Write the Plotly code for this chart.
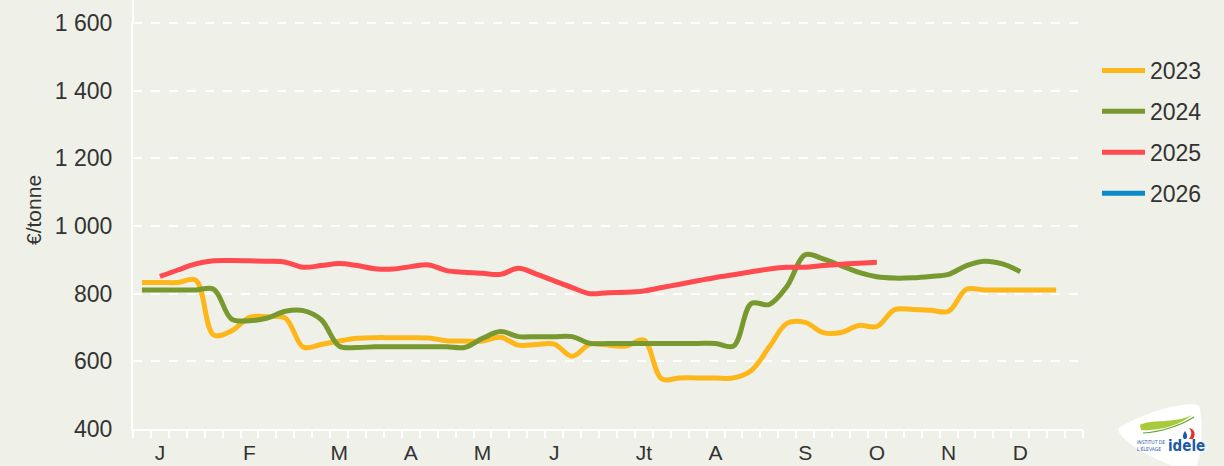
import plotly.graph_objects as go

weeks = list(range(53))
month_pos = [1, 6, 11, 15, 19, 23, 28, 32, 37, 41, 45, 49]
month_labels = ["J", "F", "M", "A", "M", "J", "Jt", "A", "S", "O", "N", "D"]
y_ticks = [400, 600, 800, 1000, 1200, 1400, 1600]
y_tick_text = ["400", "600", "800", "1 000", "1 200", "1 400", "1 600"]

y2023 = [833, 833, 833, 840, 678, 690, 730, 732, 728, 642, 650, 660, 668, 670, 670, 670, 669,
         661, 660, 660, 671, 648, 650, 651, 615, 651, 648, 645, 663, 548, 551, 551, 551, 551,
         573, 643, 713, 715, 685, 685, 706, 703, 753, 753, 751, 748, 813, 811, 811, 811, 811,
         811, None]
y2024 = [811, 811, 811, 811, 813, 725, 720, 728, 748, 750, 723, 645, 641, 643, 643, 643, 643,
         643, 641, 668, 688, 673, 673, 673, 673, 653, 653, 653, 653, 653, 653, 653, 653, 645,
         771, 768, 823, 915, 903, 883, 863, 850, 846, 847, 851, 857, 883, 896, 888, 865,
         None, None, None]
y2025 = [None, 851, 870, 888, 897, 898, 897, 896, 893, 878, 883, 889, 883, 874, 873, 880, 885,
         868, 863, 860, 857, 875, 858, 838, 818, 800, 803, 804, 808, 818, 828, 838, 848, 856,
         865, 873, 878, 878, 883, 887, 890, 893] + [None] * 11
y2026 = [None] * 53

series = [
    ("2023", y2023, "#FDB71A"),
    ("2024", y2024, "#77992F"),
    ("2025", y2025, "#FF4A50"),
    ("2026", y2026, "#0B8AC7"),
]

W, H = 1224, 466
L, R, T, B = 133, 1083, 22, 429


def px(x):
    return (x - L) / (R - L)


def py(y):
    return (B - y) / (B - T)


fig = go.Figure()
for i, (name, ys, col) in enumerate(series):
    fig.add_trace(go.Scatter(
        x=weeks, y=ys, name=name, mode="lines",
        line=dict(color=col, width=5, shape="spline", smoothing=1.0),
        legendgroup=name, connectgaps=False, hoverinfo="skip",
    ))

font_family = "Liberation Sans, Arial, sans-serif"
txt_col = "#333333"
bg = "#EFF0E7"

fig.update_layout(
    width=W, height=H,
    margin=dict(l=L, r=W - R, t=T, b=H - B, autoexpand=False),
    paper_bgcolor=bg, plot_bgcolor=bg,
    font=dict(family=font_family, color=txt_col, size=21),
    showlegend=True,
    legend=dict(
        x=px(1097), xanchor="left", y=py(49), yanchor="top",
        bgcolor="rgba(0,0,0,0)", font=dict(size=23, color=txt_col),
        tracegroupgap=8, itemwidth=43,
    ),
    xaxis=dict(
        range=[-0.5, 52.5], tickmode="array", tickvals=month_pos, ticktext=month_labels,
        ticks="", showgrid=False, zeroline=False, automargin=False,
        showline=True, linecolor="white", linewidth=2,
        tickfont=dict(size=21, color=txt_col),
        ticklabelstandoff=4,
        minor=dict(tickmode="linear", tick0=-0.5, dtick=1, ticks="outside",
                   ticklen=7, tickcolor="white", tickwidth=2, showgrid=False),
    ),
    yaxis=dict(
        range=[400, 1603], tickmode="array", tickvals=y_ticks, ticktext=y_tick_text,
        ticks="", showgrid=True, gridcolor="white", griddash="dash", gridwidth=1.5,
        zeroline=False, showline=True, linecolor="white", linewidth=2, automargin=False,
        tickfont=dict(size=23, color=txt_col), ticklabelstandoff=14,
    ),
    annotations=[
        dict(text="€/tonne", x=px(33), y=py(210), xref="paper", yref="paper",
             xanchor="center", yanchor="middle",
             textangle=-90, showarrow=False, font=dict(size=21, color=txt_col)),
        dict(text="INSTITUT DE<br>L'ÉLEVAGE", x=px(1167), y=py(445), xref="paper", yref="paper",
             showarrow=False, xanchor="right", yanchor="middle", align="left",
             font=dict(size=5, color="#1D5BA6", family="DejaVu Sans Condensed, sans-serif")),
        dict(text="<b>idele</b>", x=px(1166), y=py(446), xref="paper", yref="paper",
             showarrow=False, xanchor="left", yanchor="middle",
             font=dict(size=15, color="#1D5BA6", family="DejaVu Sans Condensed, sans-serif")),
    ],
    shapes=[
        dict(type="line", xref="paper", yref="paper", x0=0, x1=0, y0=1, y1=py(0),
             line=dict(color="white", width=2), layer="above"),
        dict(type="path", xref="paper", yref="paper", fillcolor="white", line=dict(width=0),
             layer="above",
             path=(f"M{px(1199)},{py(406)} "
                   f"C{px(1190)},{py(400)} {px(1150)},{py(410)} {px(1120)},{py(427)} "
                   f"C{px(1110)},{py(434)} {px(1150)},{py(460)} {px(1180)},{py(468)} "
                   f"L{px(1196)},{py(468)} "
                   f"C{px(1203)},{py(450)} {px(1203)},{py(420)} {px(1199)},{py(406)} Z")),
        dict(type="path", xref="paper", yref="paper", fillcolor="#A8C93A", line=dict(width=0),
             layer="above",
             path=(f"M{px(1140)},{py(425)} C{px(1150)},{py(419)} {px(1175)},{py(424)} {px(1192)},{py(415)} "
                   f"C{px(1175)},{py(429)} {px(1150)},{py(431)} {px(1141)},{py(430)} Z")),
        dict(type="path", xref="paper", yref="paper", line=dict(color="#5FA832", width=1.2),
             layer="above",
             path=(f"M{px(1143)},{py(433)} C{px(1160)},{py(432)} {px(1180)},{py(426)} {px(1194)},{py(417)}")),
        dict(type="path", xref="paper", yref="paper", fillcolor="#E63323", line=dict(width=0),
             layer="above",
             path=(f"M{px(1189)},{py(439)} C{px(1192)},{py(435)} {px(1192)},{py(431)} {px(1189)},{py(428)} "
                   f"C{px(1195)},{py(429)} {px(1196)},{py(435)} {px(1193)},{py(439)} Z")),
        dict(type="path", xref="paper", yref="paper", fillcolor="#1D5BA6", line=dict(width=0),
             layer="above",
             path=(f"M{px(1184)},{py(439)} C{px(1182)},{py(437)} {px(1183)},{py(434)} {px(1185)},{py(431)} "
                   f"C{px(1187)},{py(434)} {px(1188)},{py(437)} {px(1186)},{py(439)} Z")),
    ],
)

fig.write_html(
    "out.html",
    config={"displayModeBar": False},
    post_script="document.body.style.margin='0';document.body.style.overflow='hidden';",
)
